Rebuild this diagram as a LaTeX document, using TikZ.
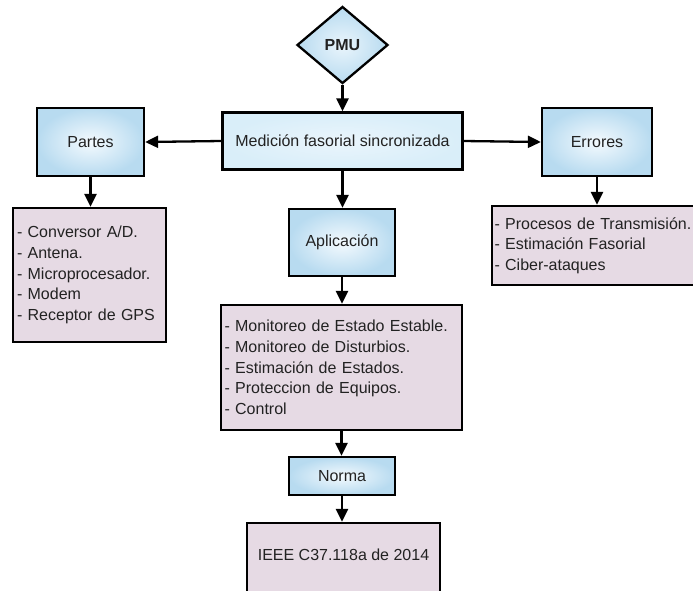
\documentclass[tikz,border=0pt]{standalone}
\usepackage{fontspec}
\setmainfont{Liberation Sans}
\usetikzlibrary{shapes.geometric,arrows.meta}

\definecolor{inktext}{HTML}{222222}
\definecolor{bluein}{HTML}{F4FAFE}
\definecolor{blueout}{HTML}{B8DBF0}
\definecolor{medin}{HTML}{EAF5FC}
\definecolor{medout}{HTML}{D9EEF9}
\definecolor{listfill}{HTML}{E6DAE4}

\tikzset{
  every node/.style={font=\fontsize{16}{20.7}\selectfont, text=inktext},
  bluebox/.style={rectangle, draw=black, line width=2.3pt, inner sep=0pt,
    shading=radial, inner color=bluein, outer color=blueout, align=center},
  listbox/.style={rectangle, draw=black, line width=2.3pt, fill=listfill,
    inner sep=0pt, align=left},
  link/.style={line width=2.3pt, -{Triangle[width=12pt,length=13pt]}},
}

\begin{document}
\begin{tikzpicture}[x=1pt, y=-1pt]
\useasboundingbox (0,0) rectangle (693,590);
\fill[white] (0,0) rectangle (693,590);
\clip (0,0) rectangle (693,590);

% top decision shape
\node[diamond, draw=black, line width=2.3pt, inner sep=0pt,
      minimum width=91pt, minimum height=77pt,
      shading=radial, inner color=medin, outer color=blueout,
      font=\fontsize{16}{18}\selectfont\bfseries]
  (pmu) at (342.5,45) {PMU};

% central concept
\node[bluebox, inner color=medin, outer color=medout,
      minimum width=240pt, minimum height=57pt]
  (med) at (342.5,141) {Medición fasorial sincronizada};

% branches
\node[bluebox, minimum width=107pt, minimum height=68pt]
  (partes) at (90.5,142) {Partes};
\node[bluebox, minimum width=110pt, minimum height=68pt]
  (errores) at (597,142) {Errores};
\node[bluebox, minimum width=106pt, minimum height=67pt]
  (apl) at (342,242.5) {Aplicación};
\node[bluebox, minimum width=106pt, minimum height=38pt]
  (norma) at (342,476) {Norma};

% item lists
\node[listbox, minimum width=153pt, minimum height=134pt, text width=145pt]
  (partlist) at (89.5,275)
  {- Conversor A/D.\\- Antena.\\- Microprocesador.\\- Modem\\- Receptor de GPS};
\node[listbox, minimum width=208pt, minimum height=79pt, text width=203pt]
  (errlist) at (596,245.5)
  {- Procesos de Transmisión.\\- Estimación Fasorial\\- Ciber-ataques};
\node[listbox, minimum width=241pt, minimum height=125pt, text width=234pt]
  (apllist) at (341.5,367.5)
  {- Monitoreo de Estado Estable.\\- Monitoreo de Disturbios.\\- Estimación de Estados.\\- Proteccion de Equipos.\\- Control};
\node[listbox, align=center, minimum width=193pt, minimum height=80pt,
      text height=11.5pt, text depth=16pt]
  (ieee) at (343.5,563) {IEEE C37.118a de 2014};

% connectors
\draw[link] (pmu.south) -- (pmu.south |- med.north);
\draw[link] (med.west) -- (partes.east);
\draw[link] (med.east) -- (errores.west);
\draw[link] (partes.south) -- (partes.south |- partlist.north);
\draw[link] (errores.south) -- (errores.south |- errlist.north);
\draw[link] (med.south) -- (med.south |- apl.north);
\draw[link] (apl.south) -- (apl.south |- apllist.north);
\draw[link] (apllist.south) -- (apllist.south |- norma.north);
\draw[link] (norma.south) -- (norma.south |- ieee.north);
\end{tikzpicture}
\end{document}
